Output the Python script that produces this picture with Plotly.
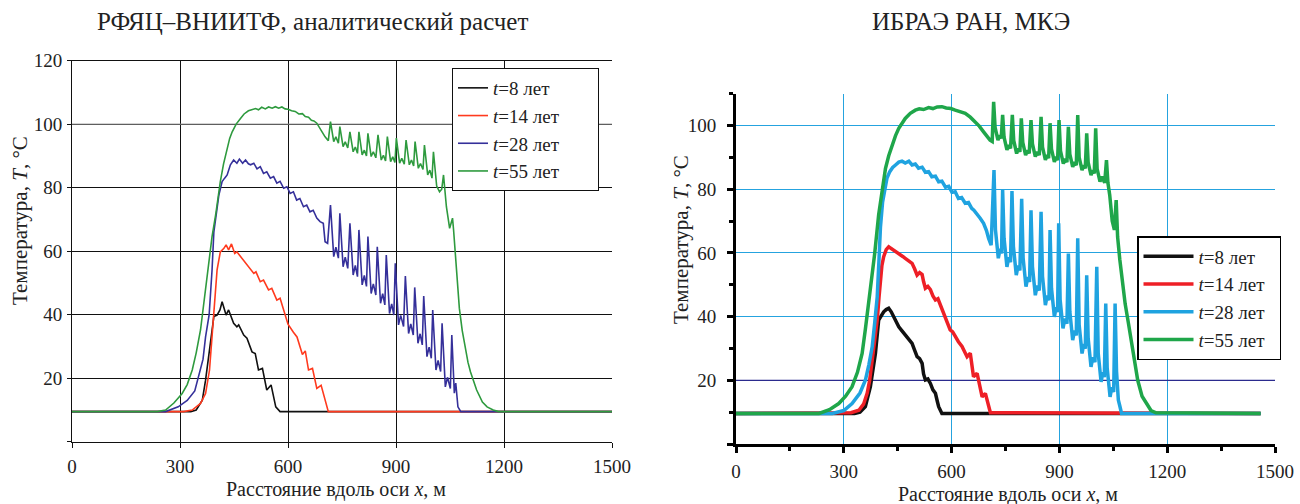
import plotly.graph_objects as go

# ---------------- Left panel data (РФЯЦ–ВНИИТФ) ----------------
L_x_8 = [0, 330, 345, 362, 371, 380, 388, 394, 403, 411, 417, 428, 435, 449, 458, 463, 477, 486, 500, 509,
         518, 529, 541, 553, 566, 578, 715, 1500]
L_T_8 = [9.5, 9.5, 10.0, 13.1, 19.4, 27.8, 35.2, 39.4, 39.9, 41.5, 44.1, 39.9, 41.5, 37.3, 36.2, 36.8, 33.6, 32.6, 28.3, 27.8,
         22.6, 23.1, 16.3, 17.9, 11.0, 9.5, 9.5, 9.5]

L_x_14 = [0, 310, 334, 357, 371, 382, 389, 397, 403, 412, 422, 428, 435, 443, 452, 458, 468, 480, 492, 505,
          511, 523, 532, 546, 555, 569, 578, 592, 600, 615, 625, 640, 648, 657, 668, 680, 692, 712, 1500]
L_T_14 = [9.5, 9.5, 10.0, 12.1, 15.2, 22.6, 33.1, 45.7, 54.1, 59.8, 60.9, 62.0, 60.4, 62.3, 59.3, 59.8, 58.3, 56.7, 55.0, 53.0,
          53.5, 50.4, 50.9, 47.8, 48.3, 44.6, 45.2, 40.4, 37.0, 34.5, 33.0, 27.5, 28.6, 22.6, 23.1, 16.8, 17.8, 9.5, 9.5]

L_x_28 = [0, 260, 295, 320, 341, 352, 364, 371, 381, 389, 394, 408, 417, 424, 431, 440, 449, 458, 465, 474,
          482, 490, 496, 505, 514, 523, 532, 541, 551, 560, 569, 578, 588, 597, 606, 615, 624, 633, 643, 652,
          661, 670, 680, 689, 698, 703, 710,
          718, 727, 733, 740, 744, 753, 759, 766, 772, 781, 787, 793, 797, 806, 812, 818,
          822, 831, 837, 844, 848, 857, 863, 869, 873, 882, 888, 894, 898, 907, 913, 921,
          926, 935, 941, 948, 952, 961, 967, 973, 977, 986, 992, 998, 1002, 1011, 1017, 1024,
          1028, 1037, 1043, 1051, 1055, 1062, 1066, 1072, 1080, 1500]
L_T_28 = [9.5, 9.5, 11.0, 13.0, 16.0, 20.5, 26.0, 33.0, 40.0, 54.0, 66.0, 77.7, 81.9, 83.0, 84.0, 87.2, 88.7, 87.7, 89.0, 87.7,
          88.7, 87.5, 87.2, 87.7, 85.9, 86.6, 84.5, 85.0, 83.0, 83.5, 81.4, 82.0, 79.8, 80.3, 78.2, 78.7, 76.1, 76.6, 74.0, 74.5,
          72.4, 72.9, 70.4, 69.3, 68.8, 63.0, 62.5,
          74.5, 58.3, 61.3, 57.8, 71.9, 55.1, 58.1, 54.6, 68.8, 52.5, 55.5, 52.0, 66.7, 49.4, 52.4, 48.9,
          64.6, 46.7, 49.7, 46.2, 61.4, 43.6, 46.6, 43.1, 58.8, 40.4, 43.4, 39.9, 56.2, 36.8, 39.8, 36.3,
          52.2, 34.1, 37.1, 33.6, 48.6, 31.0, 34.0, 30.5, 45.9, 26.8, 29.8, 26.3, 41.5, 22.6, 25.6, 22.1,
          37.3, 17.3, 20.3, 16.8, 33.6, 15.3, 18.5, 11.0, 9.5, 9.5]

L_x_55 = [0, 237, 260, 283, 306, 320, 334, 345, 357, 366, 375, 382, 389, 399, 405, 412, 421, 431, 438, 445,
          456, 468, 478, 490, 500, 510, 518, 527, 537, 546, 556, 565, 574, 583, 592, 600, 610, 620, 630, 640,
          648, 657, 665, 672, 680, 688, 695, 703, 712,
          718, 727, 733, 740, 744, 753, 759, 766, 772, 781, 787, 793, 797, 806, 812, 818,
          822, 831, 837, 844, 850, 859, 865, 871, 876, 885, 891, 897, 901, 910, 916, 923,
          928, 937, 943, 949, 953, 962, 968, 975, 979, 988, 994, 1000, 1004, 1013, 1021, 1027,
          1032, 1040, 1049, 1057, 1060, 1067, 1076, 1084, 1090, 1100, 1107, 1124, 1140, 1153, 1170, 1185, 1500]
L_T_55 = [9.5, 9.5, 10.0, 12.2, 15.2, 18.0, 22.6, 28.0, 35.2, 43.0, 50.9, 58.0, 64.6, 71.4, 77.0, 81.9, 87.5, 92.4, 95.5, 97.6,
          100.0, 101.8, 103.2, 104.2, 104.5, 104.9, 104.5, 105.3, 104.8, 105.4, 105.0, 105.5, 105.0, 105.4, 104.8, 104.7, 104.2, 104.0, 103.2, 103.3,
          102.4, 102.2, 101.2, 101.0, 100.3, 99.0, 97.5, 96.0, 94.8,
          100.8, 94.5, 96.0, 94.0, 99.2, 92.9, 94.4, 92.5, 97.6, 91.3, 92.8, 90.8, 97.6, 90.3, 91.8, 90.0,
          97.1, 89.8, 91.3, 89.4, 96.6, 88.7, 90.2, 88.4, 96.1, 88.2, 89.7, 87.9, 95.6, 87.7, 89.2, 87.4,
          95.0, 87.2, 88.7, 86.8, 94.5, 86.1, 87.6, 85.7, 93.4, 84.0, 85.5, 83.0, 91.3, 80.5, 78.7, 79.5,
          84.0, 74.0, 67.2, 70.4, 66.6, 55.0, 42.0, 35.0, 31.0, 25.0, 22.0, 16.3, 12.5, 11.0, 10.0, 9.5, 9.5]

# ---------------- Right panel data (ИБРАЭ РАН) ----------------
R_x_8 = [0, 330, 345, 360, 374, 381, 388, 397, 404, 411, 418, 425, 432, 439, 446, 453, 462, 471, 480, 490,
         497, 504, 511, 518, 522, 527, 534, 541, 548, 555, 560, 564, 573, 715, 1460]
R_T_8 = [9.6, 9.6, 10.0, 11.7, 18.0, 23.0, 28.4, 38.9, 40.5, 41.5, 42.2, 42.6, 41.5, 39.9, 38.8, 36.8, 35.5, 34.2, 33.2, 31.6,
         29.5, 27.4, 26.8, 25.3, 22.0, 20.1, 20.4, 19.0, 17.0, 15.9, 13.5, 11.7, 9.6, 9.6, 9.6]

R_x_14 = [0, 300, 320, 342, 355, 365, 372, 379, 386, 393, 398, 402, 406, 411, 418, 425, 432, 439, 446, 456,
          465, 471, 480, 490, 497, 504, 511, 518, 522, 527, 534, 541, 548, 555, 562, 569, 576, 582, 589, 596,
          603, 610, 619, 629, 643, 652, 661, 671, 685, 694, 708, 1460]
R_T_14 = [9.6, 9.6, 9.8, 10.6, 12.5, 15.9, 20.0, 26.3, 32.0, 38.9, 46.0, 52.5, 56.0, 58.8, 61.0, 61.9, 61.3, 60.9, 60.2, 59.3,
          58.8, 58.3, 57.5, 56.7, 55.0, 53.0, 53.8, 53.2, 51.0, 48.9, 49.5, 48.5, 46.5, 45.2, 45.6, 43.5, 42.0, 39.9, 38.0, 35.8,
          35.2, 33.7, 32.1, 30.6, 27.4, 28.5, 21.1, 22.2, 14.8, 15.9, 9.8, 9.6]

R_x_28 = [0, 268, 300, 323, 345, 360, 370, 379, 386, 393, 398, 402, 408, 414, 420, 428, 436, 444, 453, 462,
          471, 481, 490, 499, 508, 518, 527, 536, 545, 555, 564, 573, 583, 592, 601, 610, 619, 628, 638, 647,
          656, 662, 670, 680, 689, 697, 703, 710,
          718, 722, 730, 735, 739, 742, 746, 754, 759, 764, 768, 772, 780, 785, 790,
          795, 799, 807, 812, 817, 821, 825, 833, 838, 844, 849, 853, 861, 866, 871,
          874, 878, 886, 891, 895, 898, 902, 910, 915, 921, 925, 929, 937, 942, 947,
          951, 955, 963, 968, 972, 976, 980, 988, 993, 999, 1004, 1008, 1016, 1021, 1025,
          1029, 1033, 1041, 1046, 1051, 1055, 1059, 1064, 1068, 1073, 1460]
R_T_28 = [9.6, 9.6, 10.5, 12.7, 16.0, 20.0, 25.0, 30.5, 38.0, 46.2, 58.0, 68.0, 76.0, 80.5, 83.4, 85.5, 86.8, 87.6, 88.5, 88.8,
          88.2, 88.8, 87.6, 87.9, 86.6, 86.9, 85.3, 85.5, 83.9, 84.1, 82.3, 82.5, 80.6, 80.9, 79.0, 79.2, 77.1, 77.4, 75.6, 75.8,
          74.0, 73.4, 72.4, 70.8, 69.3, 67.0, 64.5, 62.4,
          86.0, 67.3, 58.3, 61.3, 59.8, 79.7, 64.6, 55.6, 58.6, 57.1, 79.4, 62.0, 53.0, 56.0, 54.5,
          77.0, 58.4, 49.4, 52.4, 50.9, 73.4, 55.7, 46.7, 49.7, 48.2, 72.9, 52.6, 43.6, 46.6, 45.1,
          67.2, 48.9, 39.9, 42.9, 41.4, 69.3, 45.3, 36.3, 39.3, 37.8, 59.8, 41.6, 32.6, 35.6, 34.1,
          64.6, 37.4, 28.4, 31.4, 29.9, 53.0, 33.2, 24.2, 27.2, 25.7, 55.6, 28.5, 19.5, 22.5, 21.0,
          44.1, 23.8, 14.8, 17.8, 16.3, 44.1, 22.8, 13.8, 12.0, 9.6, 9.6]

R_x_55 = [0, 231, 260, 286, 305, 323, 338, 351, 360, 369, 378, 386, 397, 405, 416, 425, 434, 444, 453, 462,
          471, 485, 499, 510, 522, 536, 548, 560, 573, 585, 598, 610, 624, 638, 652, 666, 677, 689, 698, 707, 713,
          717, 721, 729, 734, 738, 742, 746, 754, 759, 764, 769, 773, 781, 786, 790,
          794, 798, 806, 811, 816, 821, 825, 833, 838, 844, 849, 853, 861, 866, 870,
          874, 878, 886, 891, 895, 899, 903, 911, 916, 921, 925, 929, 937, 942, 947,
          951, 955, 963, 968, 972, 976, 980, 988, 993, 997, 1001, 1005, 1013, 1018, 1026,
          1031, 1035, 1040, 1047, 1053, 1058, 1062, 1068, 1076, 1083, 1092, 1100, 1110, 1118, 1130, 1142, 1155, 1169, 1460]
R_T_55 = [9.6, 9.6, 10.8, 12.7, 15.0, 18.0, 22.5, 28.4, 36.0, 44.1, 52.0, 59.8, 72.0, 78.0, 86.5, 90.5, 93.8, 96.8, 99.1, 100.8,
          102.2, 103.8, 104.8, 105.2, 105.0, 105.6, 105.3, 105.8, 105.9, 105.5, 105.3, 104.8, 104.4, 103.8, 102.6, 101.2, 99.8, 98.0, 96.6, 95.4, 95.0,
          107.4, 99.4, 95.4, 96.9, 95.9, 103.3, 96.3, 92.3, 93.8, 92.8, 103.3, 95.2, 91.2, 92.7, 91.7,
          102.2, 94.7, 90.7, 92.2, 91.2, 101.7, 94.2, 90.2, 91.7, 90.7, 102.7, 93.2, 89.2, 90.7, 89.7,
          100.7, 92.6, 88.6, 90.1, 89.1, 101.7, 92.0, 88.0, 89.5, 88.5, 99.6, 91.0, 87.0, 88.5, 87.5,
          103.3, 90.0, 86.0, 87.5, 86.5, 97.5, 88.4, 84.4, 85.9, 84.9, 99.1, 86.4, 82.4, 83.9, 82.0,
          89.1, 82.0, 78.2, 70.0, 67.2, 76.6, 65.0, 58.0, 50.0, 44.0, 38.0, 32.6, 25.0, 20.0, 15.0, 12.7, 10.5, 9.8, 9.6]

SERIES_NAMES = ["<i>t</i>=8 лет", "<i>t</i>=14 лет", "<i>t</i>=28 лет", "<i>t</i>=55 лет"]
X_TICKS = [0, 300, 600, 900, 1200, 1500]
X_MINOR = [150, 450, 750, 1050, 1350]
L_Y_TICKS = [0, 20, 40, 60, 80, 100, 120]
L_Y_TEXT = ["", "20", "40", "60", "80", "100", "120"]
R_Y_TICKS = [0, 20, 40, 60, 80, 100]
R_Y_TEXT = ["", "20", "40", "60", "80", "100"]
R_Y_MINOR = [10, 30, 50, 70, 90, 110]
# reference lines of distinct colour in the original grids
L_REF_X = [0, 1500]
L_REF_T = [100, 100]
R_REF_X = [0, 1500]
R_REF_T = [20, 20]

SERIF = "Liberation Serif"
TXT = "#222222"
left_colors = ["#111111", "#ff3a1e", "#35309a", "#2e9a3e"]
right_colors = ["#111111", "#ee1f26", "#1fa3e0", "#1fa64a"]
GRID_BLUE = "#25a3df"
PAD_L = "&nbsp;" * 7
PAD_R = "&nbsp;" * 2

fig = go.Figure()
# grid-colour reference lines drawn first (underneath the curves)
fig.add_trace(go.Scatter(x=L_REF_X, y=L_REF_T, mode="lines", line=dict(color="#8c8c8c", width=1),
                         hoverinfo="skip", showlegend=False, xaxis="x", yaxis="y"))
for xs, ts, nm, c in zip([L_x_8, L_x_14, L_x_28, L_x_55], [L_T_8, L_T_14, L_T_28, L_T_55], SERIES_NAMES, left_colors):
    fig.add_trace(go.Scatter(x=xs, y=ts, mode="lines", name=nm + PAD_L, line=dict(color=c, width=1.6),
                             xaxis="x", yaxis="y", legend="legend"))
fig.add_trace(go.Scatter(x=R_REF_X, y=R_REF_T, mode="lines", line=dict(color="#2b2b8e", width=1.3),
                         hoverinfo="skip", showlegend=False, xaxis="x2", yaxis="y2"))
for xs, ts, nm, c in zip([R_x_8, R_x_14, R_x_28, R_x_55], [R_T_8, R_T_14, R_T_28, R_T_55], SERIES_NAMES, right_colors):
    fig.add_trace(go.Scatter(x=xs, y=ts, mode="lines", name=nm + PAD_R, line=dict(color=c, width=3.5),
                             xaxis="x2", yaxis="y2", legend="legend2"))

W, H = 1300, 504
def px(x): return x / W
def py(y): return 1 - y / H

LDOM_X = [px(72), px(612)]
LDOM_Y = [py(441.8), py(60.6)]
RDOM_X = [px(736), px(1275)]
RDOM_Y = [py(444), py(93.6)]
TF = dict(family=SERIF, size=19, color=TXT)

fig.update_layout(
    width=W, height=H, margin=dict(l=0, r=0, t=0, b=0, autoexpand=False),
    paper_bgcolor="white", plot_bgcolor="white",
    font=dict(family=SERIF, size=19, color=TXT),
    xaxis=dict(domain=LDOM_X, range=[0, 1500], tickvals=X_TICKS, anchor="y", automargin=False,
               showgrid=True, gridcolor="#111111", gridwidth=1, zeroline=False,
               showline=True, linecolor="#111111", linewidth=1, mirror=True,
               ticks="outside", ticklen=5, tickcolor="#111111", ticklabelstandoff=2, tickfont=TF),
    yaxis=dict(domain=LDOM_Y, range=[0, 120], tickvals=L_Y_TICKS, ticktext=L_Y_TEXT, anchor="x", automargin=False,
               showgrid=True, gridcolor="#111111", gridwidth=1, zeroline=False,
               showline=True, linecolor="#111111", linewidth=1,
               ticks="outside", ticklen=4, tickcolor="#111111", ticklabelstandoff=1, tickfont=TF),
    yaxis3=dict(overlaying="y", side="right", anchor="x", range=[0, 120], automargin=False,
                showgrid=False, zeroline=False, showticklabels=False, ticks="",
                showline=True, linecolor="#9a9a9a", linewidth=1),
    xaxis2=dict(domain=RDOM_X, range=[0, 1500], tickvals=X_TICKS, anchor="y2", automargin=False,
                showgrid=True, gridcolor=GRID_BLUE, gridwidth=1, zeroline=False,
                showline=True, linecolor="black", linewidth=3,
                ticks="outside", ticklen=6, tickwidth=3, tickcolor="black", ticklabelstandoff=2,
                minor=dict(tickvals=X_MINOR, ticks="outside", ticklen=4, tickwidth=2.5,
                           tickcolor="black", showgrid=False),
                tickfont=TF),
    yaxis2=dict(domain=RDOM_Y, range=[0, 110], tickvals=R_Y_TICKS, ticktext=R_Y_TEXT, anchor="x2", automargin=False,
                showgrid=True, gridcolor=GRID_BLUE, gridwidth=1, zeroline=False,
                showline=True, linecolor="black", linewidth=3,
                ticks="outside", ticklen=6, tickwidth=3, tickcolor="black", ticklabelstandoff=7,
                minor=dict(tickvals=R_Y_MINOR, ticks="outside", ticklen=4, tickwidth=2.5,
                           tickcolor="black", showgrid=False),
                tickfont=TF),
    legend=dict(x=px(452), y=py(68), xanchor="left", yanchor="top", bgcolor="white",
                bordercolor="#111111", borderwidth=1, font=dict(family=SERIF, size=19, color=TXT),
                itemwidth=30, tracegroupgap=0),
    legend2=dict(x=px(1137), y=py(236), xanchor="left", yanchor="top", bgcolor="white",
                 bordercolor="black", borderwidth=1.5, font=dict(family=SERIF, size=19, color=TXT),
                 itemwidth=50, tracegroupgap=0),
    showlegend=True,
    annotations=[
        dict(text="РФЯЦ–ВНИИТФ, аналитический расчет", xref="paper", yref="paper", x=px(312), y=py(22),
             xanchor="center", yanchor="middle", showarrow=False, font=dict(family=SERIF, size=25, color=TXT)),
        dict(text="ИБРАЭ РАН, МКЭ", xref="paper", yref="paper", x=px(971), y=py(22),
             xanchor="center", yanchor="middle", showarrow=False, font=dict(family=SERIF, size=25, color=TXT)),
        dict(text="Температура, <i>T</i>, °C", xref="paper", yref="paper", x=px(20), y=py(221),
             xanchor="center", yanchor="middle", textangle=-90, showarrow=False,
             font=dict(family=SERIF, size=21, color=TXT)),
        dict(text="Температура, <i>T</i>, °C", xref="paper", yref="paper", x=px(681), y=py(240),
             xanchor="center", yanchor="middle", textangle=-90, showarrow=False,
             font=dict(family=SERIF, size=21, color=TXT)),
        dict(text="Расстояние вдоль оси <i>x</i>, м", xref="paper", yref="paper", x=px(336), y=py(489),
             xanchor="center", yanchor="middle", showarrow=False, font=dict(family=SERIF, size=20, color=TXT)),
        dict(text="Расстояние вдоль оси <i>x</i>, м", xref="paper", yref="paper", x=px(1008), y=py(494),
             xanchor="center", yanchor="middle", showarrow=False, font=dict(family=SERIF, size=20, color=TXT)),
    ],
)

fig.write_html("out.html")
